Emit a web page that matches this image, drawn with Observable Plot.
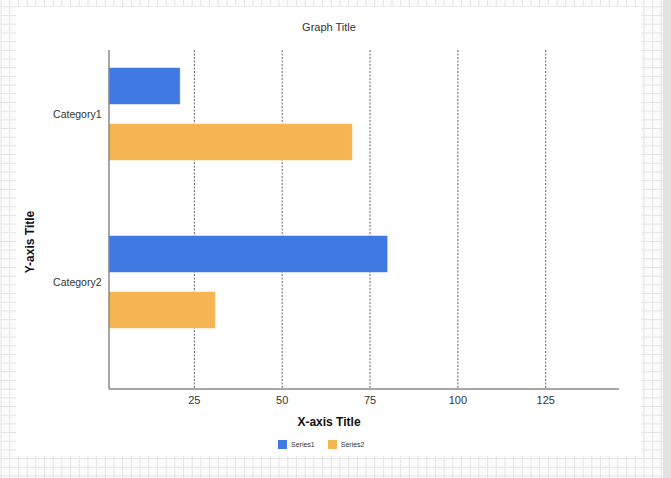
<!DOCTYPE html>
<html>
<head>
<meta charset="utf-8">
<script src="https://cdn.jsdelivr.net/npm/d3@7"></script>
<script src="https://cdn.jsdelivr.net/npm/@observablehq/plot@0.6"></script>
<style>
  html, body { margin: 0; padding: 0; }
  body {
    width: 671px; height: 478px; position: relative; overflow: hidden;
    background-color: #fbfbfb;
    background-image:
      linear-gradient(to right, #e4e4e4 1px, transparent 1px),
      linear-gradient(to bottom, #e4e4e4 1px, transparent 1px);
    background-size: 8.7px 8.7px;
    background-position: 0.6px 6.4px;
    font-family: "Liberation Sans", Arial, sans-serif;
  }
  #panel { position: absolute; left: 16px; top: 7px; width: 625px; height: 449px; background: #fff; }
  #strip { position: absolute; left: 663px; top: 0; width: 8px; height: 478px; background: #e2e2e2; }
  #chart { position: absolute; left: 0; top: 0; }
  .txt { position: absolute; color: #333; white-space: nowrap; }
  #title { left: 229px; width: 200px; text-align: center; top: 21px; font-size: 11px; }
  #xtitle { left: 229px; width: 200px; text-align: center; top: 415px; font-size: 12px; font-weight: bold; color: #111; }
  #ytitle { left: 30px; top: 242px; font-size: 12px; font-weight: bold; color: #111; transform: translate(-50%, -50%) rotate(-90deg); }
  #legend { left: 278px; top: 440px; font-size: 7px; display: flex; align-items: center; }
  .sw { width: 9px; height: 9px; display: inline-block; margin-right: 4px; }
  .item { display: flex; align-items: center; margin-right: 13px; }
</style>
</head>
<body>
<div id="panel"></div>
<div id="strip"></div>
<div id="chart"></div>
<div class="txt" id="title">Graph Title</div>
<div class="txt" id="xtitle">X-axis Title</div>
<div class="txt" id="ytitle">Y-axis Title</div>
<div class="txt" id="legend"></div>
<script>
const categories = ["Category1", "Category2"];
const seriesNames = ["Series1", "Series2"];
const series1 = [21, 80];
const series2 = [70, 31];
const xTicks = [25, 50, 75, 100, 125];
const colors = ["#4179E3", "#F6B553"];
const xDomain = [0.85, 146];

const data = [];
categories.forEach((c, i) => {
  data.push({category: c, series: "Series1", value: series1[i], slot: c + "|Series1"});
  data.push({category: c, series: "Series2", value: series2[i], slot: c + "|Series2"});
});
const slots = categories.flatMap(c => [c + "|Series1", c + "|Series2", c + "|gap"]);

const axisLines = (index, scales, values, dim) => {
  const g = d3.create("svg:g");
  const x0 = dim.marginLeft, x1 = dim.width - dim.marginRight;
  const y0 = dim.marginTop, y1 = dim.height - dim.marginBottom;
  g.append("line").attr("x1", x0).attr("x2", x0).attr("y1", y0).attr("y2", y1)
    .attr("stroke", "#8a8a8a").attr("stroke-width", 1.5);
  g.append("line").attr("x1", x0).attr("x2", x1).attr("y1", y1).attr("y2", y1)
    .attr("stroke", "#8a8a8a").attr("stroke-width", 1.5);
  return g.node();
};

const plot = Plot.plot({
  width: 671,
  height: 478,
  marginLeft: 109,
  marginRight: 52,
  marginTop: 50,
  marginBottom: 89,
  style: {background: "transparent", fontFamily: "'Liberation Sans', Arial, sans-serif", fontSize: "11px", color: "#333"},
  x: {domain: xDomain, axis: null, label: null},
  y: {type: "band", domain: slots, range: [56.5, 394.9], paddingInner: 0.362, paddingOuter: 0.181, axis: null, label: null},
  color: {domain: seriesNames, range: colors},
  marks: [
    Plot.ruleX(xTicks, {x: d => d, stroke: "#666", strokeWidth: 1, strokeDasharray: "2,1.5"}),
    Plot.barX(data, {x1: xDomain[0], x2: "value", y: "slot", fill: "series", stroke: "series", strokeOpacity: 0.6, strokeWidth: 0.8}),
    axisLines,
    Plot.axisX({ticks: xTicks, tickSize: 0, tickPadding: 7, fontSize: 11, fill: "#333", label: null}),
    Plot.text(categories, {y: d => d + "|Series1", dy: 28.2, frameAnchor: "left", dx: -8, textAnchor: "end", text: d => d, fontSize: 10.5, fill: "#333"})
  ]
});
document.getElementById("chart").appendChild(plot);

const legend = document.getElementById("legend");
seriesNames.forEach((s, i) => {
  const it = document.createElement("div");
  it.className = "item";
  it.innerHTML = `<span class="sw" style="background:${colors[i]}"></span><span>${s}</span>`;
  legend.appendChild(it);
});
</script>
</body>
</html>
